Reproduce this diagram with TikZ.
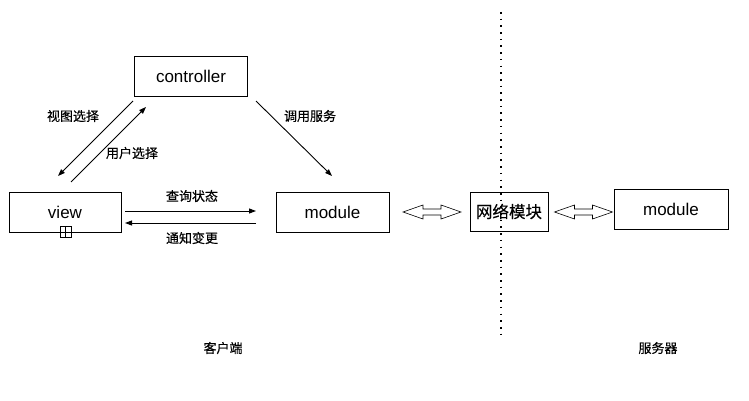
\documentclass[tikz,border=0pt]{standalone}
\usepackage{fontspec}
\setmainfont{Liberation Sans}
\newfontfamily\cjk{Noto Sans CJK SC}[FakeBold=0.3]
\usetikzlibrary{arrows.meta}
\begin{document}
\begin{tikzpicture}[x=1pt,y=-1pt,
  box/.style={draw,line width=0.9pt,inner sep=0pt,font=\fontsize{17}{20}\selectfont},
  lbl/.style={font=\cjk\fontsize{13}{15}\selectfont,inner sep=0pt},
  conn/.style={line width=0.9pt,-{Triangle[length=7pt,width=5pt]}},
  dbl/.style={line width=0.6pt,line join=miter}]
\useasboundingbox (0,0) rectangle (749,401);
\fill[white] (0,0) rectangle (749,401);
% boxes
\node[box,minimum width=113pt,minimum height=40pt] (controller) at (191,76.5) {controller};
\node[box,minimum width=112pt,minimum height=40pt] (view) at (65,212) {view};
\node[box,minimum width=113pt,minimum height=40pt] (module) at (332.5,212) {module};
\node[box,minimum width=78pt,minimum height=39pt,font=\cjk\fontsize{16.5}{19}\selectfont] (net) at (509,211.5) {网络模块};
\node[box,minimum width=114pt,minimum height=40pt] (module2) at (671,209) {module};
% collapse marker
\node[draw,fill=white,line width=0.7pt,minimum size=11pt,inner sep=0pt] (plus) at (65.5,232) {};
\draw[line width=0.7pt] (plus.north) -- (plus.south) (plus.west) -- (plus.east);
% connector end points
\coordinate (a1) at (133,101); \coordinate (a2) at (58,176);
\coordinate (b1) at (71,182); \coordinate (b2) at (146,107);
\coordinate (c1) at (256,101); \coordinate (c2) at (332,176);
\coordinate (d1) at (125,211); \coordinate (d2) at (256,211);
\coordinate (e1) at (256,223); \coordinate (e2) at (125,223);
\draw[conn] (a1) -- (a2);
\draw[conn] (b1) -- (b2);
\draw[conn] (c1) -- (c2);
\draw[conn] (d1) -- (d2);
\draw[conn] (e1) -- (e2);
% labels
\node[lbl] (l1) at (73,116) {视图选择};
\node[lbl] (l2) at (132,153) {用户选择};
\node[lbl] (l3) at (310,116) {调用服务};
\node[lbl] (l4) at (192,196) {查询状态};
\node[lbl] (l5) at (192,238) {通知变更};
\node[lbl] (client) at (223,348) {客户端};
\node[lbl] (server) at (658,348) {服务器};
% hollow double arrows
\coordinate (da1) at (432,212);
\coordinate (da2) at (583.5,212);
\foreach \c in {da1,da2}
  \draw[dbl,shift={(\c)}] (-29,0) -- (-9,-7) -- (-9,-3) -- (9,-3) -- (9,-7) -- (29,0)
     -- (9,7) -- (9,3) -- (-9,3) -- (-9,7) -- cycle;
% dotted divider
\coordinate (t1) at (501,12); \coordinate (t2) at (501,338);
\draw[line width=1.6pt,dash pattern=on 1.6pt off 5.1pt] (t1) -- (t2);
\end{tikzpicture}
\end{document}
